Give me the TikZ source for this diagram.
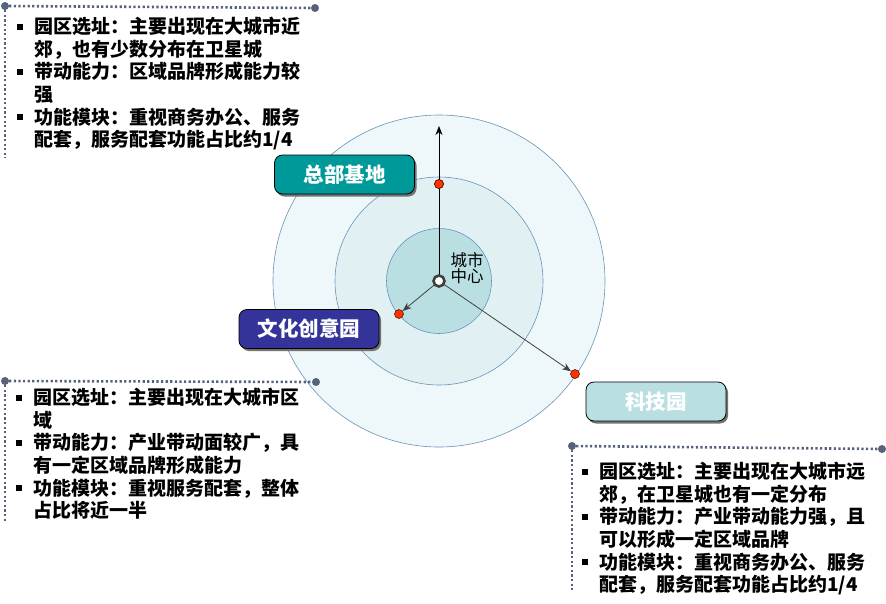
\documentclass[tikz,border=0pt]{standalone}
\usepackage{fontspec}
\setmainfont{Noto Sans CJK SC}
\usetikzlibrary{arrows.meta,shadows}
\definecolor{ringline}{HTML}{6A92B8}
\definecolor{outerfill}{HTML}{EEF7F9}
\definecolor{midfill}{HTML}{E1F1F3}
\definecolor{innerfill}{HTML}{BADFE3}
\definecolor{hqteal}{HTML}{009999}
\definecolor{indigo}{HTML}{333399}
\definecolor{pale}{HTML}{B9DFE3}
\definecolor{slate}{HTML}{56627A}
\definecolor{dotred}{HTML}{FF3300}
\definecolor{arrowgray}{HTML}{404040}
\newcommand{\bul}{\makebox[17pt][l]{\rule[4pt]{6pt}{6pt}}}
\newcommand{\ind}{\hspace*{17pt}}
\tikzset{
  ring/.style={circle, draw=ringline, line width=0.6pt, inner sep=0},
  labelbox/.style={rounded corners=8pt, draw=black, line width=0.8pt, text=white,
    font=\fontsize{20.5pt}{24pt}\selectfont\bfseries, minimum width=140pt, minimum height=39pt,
    drop shadow={shadow xshift=2pt, shadow yshift=-2.5pt, fill=black!55, opacity=1}},
  dotline/.style={draw=slate, line width=2.6pt, dash pattern=on 2.2pt off 2.4pt},
  enddot/.style={circle, fill=slate, minimum size=8pt, inner sep=0},
  reddot/.style={circle, fill=dotred, draw=black!70!red, line width=0.5pt, minimum size=9pt, inner sep=0},
  textblock/.style={anchor=north west, inner sep=0, align=left,
    font=\fontsize{19pt}{22.6pt}\selectfont\bfseries},
  arr/.style={draw=arrowgray, line width=0.8pt, -{Stealth[length=9pt,width=7pt]}}
}
\begin{document}
\begin{tikzpicture}[x=1pt,y=-1pt]
\useasboundingbox (0,0) rectangle (886,603);
\coordinate (c) at (439,281);
% rings
\node[ring, fill=outerfill, minimum size=332pt] (outer) at (c) {};
\node[ring, fill=midfill, minimum size=208pt] (middle) at (c) {};
\node[ring, fill=innerfill, minimum size=105pt] (inner) at (c) {};
% points
\coordinate (top) at (439,126);
\node[reddot] (d1) at (439,184) {};
\node[reddot] (d2) at (399,314) {};
\node[reddot] (d3) at (575,374) {};
\draw[draw=black, line width=0.8pt, -{Stealth[length=9pt,width=7pt]}] (c) -- (top);
\node[reddot] at (d1) {};
\draw[arr] (c) -- (d2);
\draw[arr] (c) -- (d3);
\node[circle, draw=arrowgray, line width=2.6pt, fill=white, minimum size=11pt, inner sep=0] (ctr) at (c) {};
\node[inner sep=0, align=left, font=\fontsize{16.5pt}{12.5pt}\selectfont] (city) at (467,268) {城市\\中心};
% labels
\node[labelbox, fill=hqteal] (hq) at (344.5,174.5) {总部基地};
\node[labelbox, fill=indigo] (wh) at (309,329) {文化创意园};
\node[labelbox, fill=pale] (kj) at (656,401.5) {科技园};
% frame 1
\node[enddot] (f1a) at (5,6) {};
\node[enddot] (f1b) at (315,8) {};
\coordinate (f1c) at (5,158);
\draw[dotline] (f1a) -- (f1b);
\draw[dotline] (f1a) -- (f1c);
\node[textblock] (t1) at (17,17) {\bul 园区选址：主要出现在大城市近\\\ind 郊，也有少数分布在卫星城\\\bul 带动能力：区域品牌形成能力较\\\ind 强\\\bul 功能模块：重视商务办公、服务\\\ind 配套，服务配套功能占比约1/4};
% frame 2
\node[enddot] (f2a) at (5,381) {};
\node[enddot] (f2b) at (316,382) {};
\coordinate (f2c) at (5,521);
\draw[dotline] (f2a) -- (f2b);
\draw[dotline] (f2a) -- (f2c);
\node[textblock] (t2) at (16,388) {\bul 园区选址：主要出现在大城市区\\\ind 域\\\bul 带动能力：产业带动面较广，具\\\ind 有一定区域品牌形成能力\\\bul 功能模块：重视服务配套，整体\\\ind 占比将近一半};
% frame 3
\node[enddot] (f3a) at (572,446) {};
\node[enddot] (f3b) at (882,449) {};
\coordinate (f3c) at (572,590);
\draw[dotline] (f3a) -- (f3b);
\draw[dotline] (f3a) -- (f3c);
\node[textblock] (t3) at (582,462) {\bul 园区选址：主要出现在大城市远\\\ind 郊，在卫星城也有一定分布\\\bul 带动能力：产业带动能力强，且\\\ind 可以形成一定区域品牌\\\bul 功能模块：重视商务办公、服务\\\ind 配套，服务配套功能占比约1/4};
\end{tikzpicture}
\end{document}
